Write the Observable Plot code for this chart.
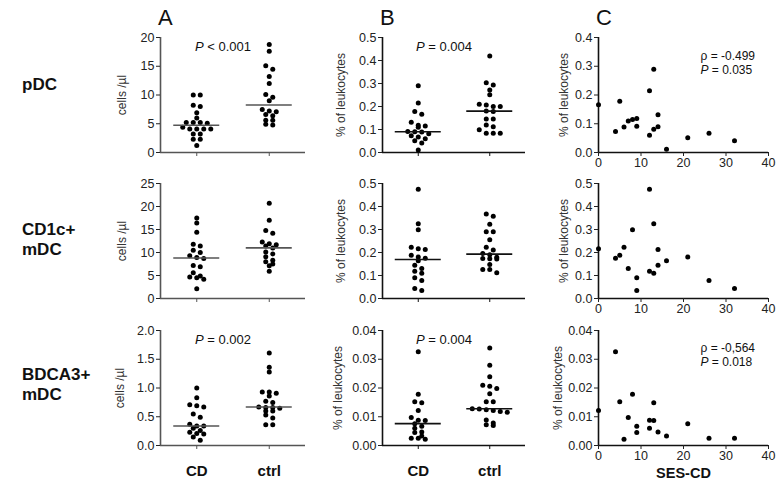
<!DOCTYPE html>
<html><head><meta charset="utf-8">
<script src="https://cdn.jsdelivr.net/npm/d3@7"></script>
<script src="https://cdn.jsdelivr.net/npm/@observablehq/plot@0.6"></script>
<style>
body{margin:0;background:#fff;font-family:"Liberation Sans",Arial,sans-serif;}
#chart{position:relative;width:778px;height:501px;overflow:hidden;background:#fff;}
.lbl{position:absolute;color:#111;white-space:nowrap;}
.row{font-weight:bold;font-size:17px;line-height:20px;}
.col{font-size:22px;line-height:22px;}
</style></head><body><div id="chart"></div>
<script>
// ---------- data ----------
const groups = ["CD", "ctrl"];
const sesTicks = [0, 10, 20, 30, 40];
// SES-CD scores of CD patients (panel C x values)
const sesCD = [0, 4, 5, 6, 7, 8, 9, 9, 12, 12, 13, 13, 14, 14, 16, 21, 26, 32];
const sesCD3 = [0, 4, 5, 6, 7, 8, 9, 9, 12, 12, 13, 13, 14, 16, 21, 26, 32];
// % of leukocytes, CD patients (panels B and C)
const pdcPctCD = [0.166, 0.073, 0.178, 0.089, 0.110, 0.115, 0.118, 0.091, 0.215, 0.060, 0.290, 0.081, 0.131, 0.090, 0.011, 0.051, 0.067, 0.041];
const mdc1PctCD = [0.216, 0.175, 0.188, 0.223, 0.130, 0.299, 0.090, 0.035, 0.475, 0.119, 0.325, 0.110, 0.213, 0.145, 0.164, 0.180, 0.078, 0.043];
const mdc3PctCD = [0.0122, 0.0326, 0.0152, 0.0022, 0.0097, 0.0178, 0.0067, 0.0045, 0.0088, 0.0060, 0.0087, 0.0149, 0.0047, 0.0033, 0.0076, 0.0025, 0.0025];
// % of leukocytes, controls (panel B)
const pdcPctCtrl = [0.420, 0.303, 0.293, 0.272, 0.251, 0.210, 0.206, 0.200, 0.200, 0.180, 0.178, 0.146, 0.146, 0.120, 0.112, 0.099, 0.084, 0.084, 0.084];
const mdc1PctCtrl = [0.367, 0.358, 0.323, 0.290, 0.290, 0.255, 0.223, 0.211, 0.196, 0.190, 0.179, 0.174, 0.173, 0.172, 0.148, 0.126, 0.126, 0.112];
const mdc3PctCtrl = [0.0339, 0.0279, 0.0239, 0.0210, 0.0206, 0.0198, 0.0180, 0.0152, 0.0152, 0.0128, 0.0127, 0.0124, 0.0122, 0.0118, 0.0116, 0.0089, 0.0078, 0.0072, 0.0070];
// cells / µl (panel A)
const pdcCellsCD = [10.0, 10.0, 8.2, 8.0, 6.9, 6.0, 5.2, 5.2, 5.2, 5.1, 4.4, 4.1, 4.1, 4.1, 4.1, 3.2, 3.2, 2.3, 2.3, 1.2];
const pdcCellsCtrl = [18.8, 17.6, 15.1, 14.5, 13.2, 12.0, 10.1, 9.6, 9.0, 7.5, 7.2, 7.1, 6.6, 6.4, 5.6, 5.6, 4.9, 4.8];
const mdc1CellsCD = [17.5, 16.4, 14.4, 11.8, 11.4, 10.5, 10.0, 9.3, 8.9, 8.7, 7.2, 6.9, 5.6, 4.9, 4.7, 4.5, 4.2, 2.1];
const mdc1CellsCtrl = [20.7, 17.0, 14.8, 14.2, 12.3, 11.9, 11.7, 11.4, 11.0, 10.1, 9.7, 9.1, 8.3, 8.0, 7.5, 7.1, 5.9];
const mdc3CellsCD = [1.00, 0.83, 0.71, 0.69, 0.67, 0.55, 0.49, 0.37, 0.34, 0.34, 0.30, 0.26, 0.23, 0.21, 0.20, 0.15, 0.09];
const mdc3CellsCtrl = [1.61, 1.36, 1.28, 0.93, 0.93, 0.91, 0.86, 0.77, 0.75, 0.67, 0.66, 0.66, 0.65, 0.60, 0.60, 0.53, 0.48, 0.36, 0.36];

const rowNames = [["pDC"], ["CD1c+", "mDC"], ["BDCA3+", "mDC"]];
const colNames = ["A", "B", "C"];
const titleA = "cells /µl", titleBC = "% of leukocytes", titleX = "SES-CD";
const notesA = ["P < 0.001", null, "P = 0.002"];
const notesB = ["P = 0.004", null, "P = 0.004"];
const notesC = [["ρ = -0.499", "P = 0.035"], null, ["ρ = -0,564", "P = 0.018"]];
const yMaxA = [20, 25, 2], yStepA = [5, 5, 0.5];
const yMaxB = [0.5, 0.5, 0.04], yStepB = [0.1, 0.1, 0.01];
const yMaxC = [0.4, 0.5, 0.04], yStepC = [0.1, 0.1, 0.01];

// ---------- layout ----------
const colLeft = [160, 382, 598], colW = [145, 143, 170];
const rowTop = [37, 183, 330], rowH = 115;
const ML = 70, MR = 8, MT = 12, MB = 48;
const font = "'Liberation Sans', Arial, sans-serif";
const chart = document.getElementById("chart");

function swarm(values, yMax, hPx, step = 7, thresh = 4) {
  const idx = values.map((v, i) => i).sort((a, b) => values[b] - values[a]);
  const off = new Array(values.length).fill(0);
  let row = [], start = null;
  const flush = () => { const n = row.length; row.forEach((i, k) => off[i] = (k - (n - 1) / 2) * step); row = []; };
  for (const i of idx) {
    const px = values[i] / yMax * hPx;
    if (start === null || start - px > thresh) { flush(); start = px; }
    row.push(i);
  }
  flush();
  return off;
}

function italicP(svg) {
  svg.querySelectorAll("text").forEach(t => {
    const s = t.textContent;
    if (/^P [<=]/.test(s) && t.childElementCount === 0) {
      t.textContent = "";
      const ts = document.createElementNS("http://www.w3.org/2000/svg", "tspan");
      ts.setAttribute("font-style", "italic");
      ts.textContent = "P";
      t.appendChild(ts);
      t.appendChild(document.createTextNode(s.slice(1)));
    }
  });
}

function place(svg, c, r) {
  svg.style.position = "absolute";
  svg.style.left = (colLeft[c] - ML) + "px";
  svg.style.top = (rowTop[r] - MT) + "px";
  italicP(svg);
  chart.appendChild(svg);
}

function ticksOf(max, step) { return d3.range(0, max + step / 2, step); }

function catPanel(c, r, cd, ctrl, yMax, yStep, fmt, title, titleOff, note, lineColor) {
  const W = colW[c], H = rowH;
  const pts = [];
  const meds = [];
  [cd, ctrl].forEach((vals, gi) => {
    const off = swarm(vals, yMax, H);
    vals.forEach((v, i) => pts.push({v, x: gi + 0.5 + off[i] / (W / 2)}));
    meds.push({c: gi + 0.5, m: d3.median(vals)});
  });
  const hw = 23 / (W / 2);
  const marks = [
    Plot.ruleY([0], {stroke: lineColor, strokeWidth: 1.6}),
    Plot.ruleX([0], {stroke: lineColor, strokeWidth: 1.6}),
    Plot.axisY({ticks: ticksOf(yMax, yStep), tickFormat: d3.format(fmt), tickSize: 4, tickPadding: 2, label: null, fontSize: 12.5, color: "#222"}),
    Plot.axisX({ticks: [0.5, 1.5], tickFormat: () => "", tickSize: 4, label: null, color: lineColor}),
    Plot.text([title], {frameAnchor: "left", textAnchor: "middle", rotate: -90, dx: -titleOff, fontSize: 12, fill: "#333"}),
    Plot.dot(pts, {x: "x", y: "v", r: 2.5, fill: "#000"}),
    Plot.ruleY(meds, {y: "m", x1: d => d.c - hw, x2: d => d.c + hw, stroke: lineColor, strokeWidth: 1.6})
  ];
  if (note) marks.push(Plot.text([note], {frameAnchor: "top", dx: -10, dy: 9, lineAnchor: "middle", fontSize: 13, fill: "#111"}));
  if (r === 2) marks.push(Plot.text(groups, {x: (d, i) => i + 0.5, frameAnchor: "bottom", dy: 26, lineAnchor: "middle", fontWeight: "bold", fontSize: 15, fill: "#111"}));
  const svg = Plot.plot({
    width: ML + W + MR, height: MT + H + MB,
    marginLeft: ML, marginRight: MR, marginTop: MT, marginBottom: MB,
    style: {background: "transparent", overflow: "visible", fontFamily: font, fontSize: "12px"},
    x: {domain: [0, 2], axis: null},
    y: {domain: [0, yMax], axis: null},
    marks
  });
  place(svg, c, r);
}

function corrPanel(r, xs, ys, yMax, yStep, fmt, titleOff, note) {
  const c = 2, W = colW[c], H = rowH;
  const pts = xs.map((x, i) => ({x, y: ys[i]}));
  const marks = [
    Plot.ruleY([0], {stroke: "#111", strokeWidth: 1.6}),
    Plot.ruleX([0], {stroke: "#111", strokeWidth: 1.6}),
    Plot.axisY({ticks: ticksOf(yMax, yStep), tickFormat: d3.format(fmt), tickSize: 4, tickPadding: 2, label: null, fontSize: 12.5, color: "#222"}),
    Plot.axisX({ticks: sesTicks, tickSize: 4, tickPadding: 2, label: null, fontSize: 12.5, color: "#222"}),
    Plot.text([titleBC], {frameAnchor: "left", textAnchor: "middle", rotate: -90, dx: -titleOff, fontSize: 12, fill: "#333"}),
    Plot.dot(pts, {x: "x", y: "y", r: 2.5, fill: "#000"})
  ];
  if (note) {
    const d0 = r === 2 ? 18 : 19;
    marks.push(Plot.text([note[0]], {frameAnchor: "top-left", textAnchor: "start", dx: 102, dy: d0, lineAnchor: "middle", fontSize: 12, fill: "#111"}));
    marks.push(Plot.text([note[1]], {frameAnchor: "top-left", textAnchor: "start", dx: 102, dy: d0 + 14, lineAnchor: "middle", fontSize: 12, fill: "#111"}));
  }
  if (r === 2) marks.push(Plot.text([titleX], {frameAnchor: "bottom", dy: 28, lineAnchor: "middle", fontWeight: "bold", fontSize: 14.5, fill: "#111"}));
  const svg = Plot.plot({
    width: ML + W + MR, height: MT + H + MB,
    marginLeft: ML, marginRight: MR, marginTop: MT, marginBottom: MB,
    style: {background: "transparent", overflow: "visible", fontFamily: font, fontSize: "12px"},
    x: {domain: [0, 40], axis: null},
    y: {domain: [0, yMax], axis: null},
    marks
  });
  place(svg, c, r);
}

const cellsCD = [pdcCellsCD, mdc1CellsCD, mdc3CellsCD];
const cellsCtrl = [pdcCellsCtrl, mdc1CellsCtrl, mdc3CellsCtrl];
const pctCD = [pdcPctCD, mdc1PctCD, mdc3PctCD];
const pctCtrl = [pdcPctCtrl, mdc1PctCtrl, mdc3PctCtrl];
const sesX = [sesCD, sesCD, sesCD3];
const fmtA = ["d", "d", ".1f"], fmtB = [".1f", ".1f", ".2f"];

for (let r = 0; r < 3; r++) {
  catPanel(0, r, cellsCD[r], cellsCtrl[r], yMaxA[r], yStepA[r], fmtA[r], titleA, r === 2 ? 40 : 38, notesA[r], "#555");
  catPanel(1, r, pctCD[r], pctCtrl[r], yMaxB[r], yStepB[r], fmtB[r], titleBC, r === 2 ? 44 : 41, notesB[r], "#111");
  corrPanel(r, sesX[r], pctCD[r], yMaxC[r], yStepC[r], fmtB[r], r === 2 ? 40 : 34, notesC[r]);
}

// row and column labels
const rowCenters = [85, 240, 385];
rowNames.forEach((lines, r) => {
  const d = document.createElement("div");
  d.className = "lbl row";
  d.innerHTML = lines.join("<br>");
  d.style.left = "22px";
  d.style.top = (rowCenters[r] - lines.length * 20 / 2) + "px";
  chart.appendChild(d);
});
colNames.forEach((t, c) => {
  const d = document.createElement("div");
  d.className = "lbl col";
  d.textContent = t;
  d.style.left = (colLeft[c] - 2) + "px";
  d.style.top = "7px";
  chart.appendChild(d);
});
</script></body></html>
